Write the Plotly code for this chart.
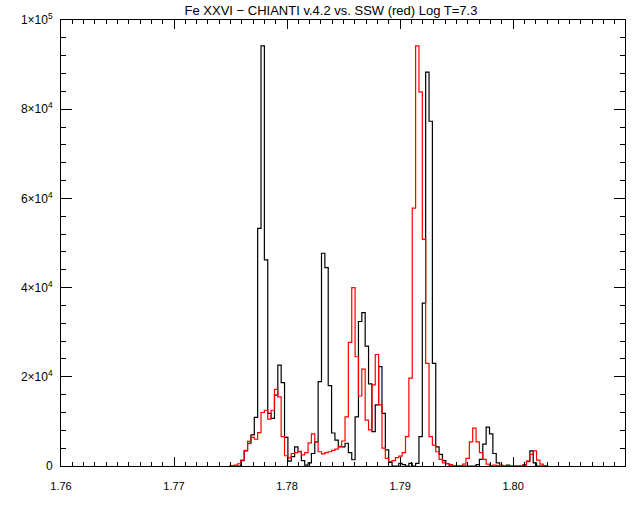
import numpy as np
import plotly.graph_objects as go

# Histogram bins (centres, Angstrom)
bin_first_center = 1.774872
bin_width = 0.0002973

# CHIANTI v.4.2 (black)
chianti = [0, 0, 0, 0, 1200, 3400, 5100, 7000, 10900, 53300,
           94200, 46200, 11800, 10700, 15900, 22600, 18700, 6400, 1100, 2100,
           4300, 3200, 1200, 200, 700, 2800, 5400, 18900, 47700, 44500,
           18000, 7400, 5800, 4300, 4300, 5100, 3000, 1400, 11000, 32400,
           34400, 26900, 18400, 7700, 13700, 22300, 11800, 3600, 800, 0,
           0, 600, 300, 0, 600, 0, 600, 6600, 36500, 88300,
           77300, 23000, 4300, 2600, 1200, 500, 0, 0, 0, 0,
           0, 0, 0, 0, 300, 1500, 4900, 8700, 7200, 2800,
           700, 0, 0, 200, 0, 0, 0, 0, 300, 1100,
           3400, 700, 0, 0, 0, 0]

# SSW (red)
ssw = [0, 100, 200, 500, 1300, 3500, 5500, 6400, 6000, 7500,
       12000, 12500, 10500, 12500, 17200, 15500, 6600, 2300, 1800, 2800,
       3000, 3300, 2500, 3000, 5200, 7200, 5400, 3200, 2700, 3000,
       3200, 3500, 3800, 4400, 5600, 11000, 27700, 40000, 24500, 15700,
       21700, 10300, 8100, 18200, 25000, 13700, 4000, 1700, 1000, 1200,
       1900, 2200, 3000, 6600, 19700, 57800, 94200, 83900, 50800, 23000,
       6600, 4700, 3200, 1500, 700, 500, 300, 100, 0, 100,
       400, 1700, 5400, 8500, 5400, 3000, 1500, 400, 100, 200,
       100, 200, 0, 0, 0, 0, 0, 0, 200, 1000,
       2600, 3400, 1300, 400, 100, 0]

wavelength = bin_first_center + bin_width * np.arange(len(chianti))

x_tick_vals = [1.76, 1.77, 1.78, 1.79, 1.80]
x_tick_text = ["1.76", "1.77", "1.78", "1.79", "1.80"]
y_tick_vals = [0, 20000, 40000, 60000, 80000, 100000]
y_tick_text = ["0", "2×10<sup>4</sup>", "4×10<sup>4</sup>", "6×10<sup>4</sup>",
               "8×10<sup>4</sup>", "1×10<sup>5</sup>"]

title_text = "Fe XXVI − CHIANTI v.4.2 vs. SSW (red) Log T=7.3"

fig = go.Figure()
fig.add_trace(go.Scatter(x=wavelength, y=chianti, mode="lines",
                         line=dict(color="black", width=1.2, shape="hvh"),
                         hoverinfo="skip"))
fig.add_trace(go.Scatter(x=wavelength, y=ssw, mode="lines",
                         line=dict(color="red", width=1.2, shape="hvh"),
                         hoverinfo="skip"))

font_family = "Liberation Sans, Arial, Helvetica, sans-serif"
fig.update_layout(
    width=640, height=512,
    margin=dict(l=61, r=15, t=20, b=46, pad=0),
    paper_bgcolor="white", plot_bgcolor="white",
    showlegend=False,
    font=dict(family=font_family, size=11, color="black"),
    title=dict(text=title_text, x=331 / 640, xanchor="center",
               y=1 - 10 / 512, yanchor="middle",
               font=dict(family=font_family, size=13, color="black")),
)
fig.update_xaxes(
    range=[1.76, 1.8099], showgrid=False, zeroline=False,
    showline=True, linecolor="black", linewidth=1, mirror="ticks",
    ticks="inside", ticklen=9, tickwidth=1, tickcolor="black",
    tickmode="array", tickvals=x_tick_vals, ticktext=x_tick_text,
    ticklabelstandoff=10,
    tickfont=dict(family=font_family, size=11, color="black"),
    minor=dict(ticks="inside", ticklen=4, tickwidth=1, tickcolor="black",
               dtick=0.001, tick0=1.76, showgrid=False),
)
fig.update_yaxes(
    range=[0, 100000], showgrid=False, zeroline=False,
    showline=True, linecolor="black", linewidth=1, mirror="ticks",
    ticks="inside", ticklen=11, tickwidth=1, tickcolor="black",
    tickmode="array", tickvals=y_tick_vals, ticktext=y_tick_text,
    ticklabelstandoff=5,
    tickfont=dict(family=font_family, size=12, color="black"),
    minor=dict(ticks="inside", ticklen=5, tickwidth=1, tickcolor="black",
               dtick=4000, tick0=0, showgrid=False),
)

# remove the browser's default 8 px body margin so the figure fills the window
fig.write_html("out.html", config={"displayModeBar": False},
               post_script="document.body.style.margin='0';")
